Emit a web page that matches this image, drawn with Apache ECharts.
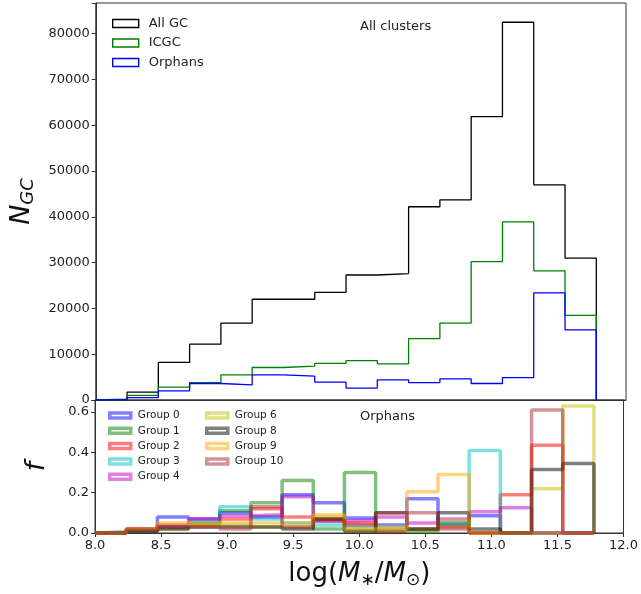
<!DOCTYPE html>
<html>
<head>
<meta charset="utf-8">
<script src="https://cdn.jsdelivr.net/npm/echarts@6/dist/echarts.min.js"></script>
<style>
  html, body { margin: 0; padding: 0; background: #fff; }
  #chart { width: 641px; height: 594px; }
</style>
</head>
<body>
<div id="chart"></div>
<script>
// bins in log(M*/Msun): 16 bins starting at 8.0
const binStart = 8.0;
const binWidth = 0.236;
const nBins = 16;

// top panel: number of GCs per bin
const allGC   = [200, 1700, 8200, 12200, 16800, 22000, 22000, 23500, 27300, 27600, 42200, 43700, 61900, 82500, 47000, 31000];
const icgc    = [100, 1000, 2800, 3800, 5500, 7100, 7400, 8000, 8600, 7900, 13400, 16800, 30200, 38900, 28200, 18500];
const orphans = [50, 500, 2000, 3600, 3300, 5500, 5200, 3900, 2600, 4400, 3800, 4600, 3600, 4900, 23400, 15300];

// bottom panel: orphan fraction per group
const groupNames = ["Group 0", "Group 1", "Group 2", "Group 3", "Group 4", "Group 6", "Group 8", "Group 9", "Group 10"];
const groupColors = ["#0000ff", "#008000", "#ff0000", "#00bfbf", "#bf00bf", "#bfbf00", "#000000", "#ffa500", "#a52a2a"];
const g0  = [0.0, 0.01, 0.08, 0.07, 0.10, 0.08, 0.19, 0.15, 0.075, 0.04, 0.17, 0.05, 0.085, 0.0, 0.0, 0.0];
const g1  = [0.0, 0.01, 0.03, 0.05, 0.11, 0.15, 0.26, 0.02, 0.30, 0.01, 0.01, 0.04, 0.0, 0.0, 0.0, 0.0];
const g2  = [0.0, 0.02, 0.04, 0.04, 0.07, 0.12, 0.08, 0.07, 0.05, 0.01, 0.02, 0.03, 0.0, 0.19, 0.435, 0.0];
const g3  = [0.008, 0.01, 0.03, 0.05, 0.13, 0.07, 0.05, 0.04, 0.03, 0.02, 0.01, 0.05, 0.41, 0.0, 0.0, 0.0];
const g4  = [0.0, 0.01, 0.03, 0.07, 0.085, 0.09, 0.18, 0.06, 0.065, 0.08, 0.05, 0.07, 0.105, 0.125, 0.0, 0.0];
const g6  = [0.0, 0.01, 0.02, 0.05, 0.04, 0.03, 0.03, 0.08, 0.01, 0.03, 0.01, 0.06, 0.0, 0.0, 0.22, 0.63];
const g8  = [0.0, 0.01, 0.02, 0.03, 0.03, 0.03, 0.02, 0.07, 0.01, 0.10, 0.02, 0.10, 0.02, 0.0, 0.315, 0.345];
const g9  = [0.0, 0.02, 0.05, 0.04, 0.05, 0.05, 0.05, 0.09, 0.02, 0.02, 0.205, 0.29, 0.0, 0.0, 0.0, 0.0];
const g10 = [0.0, 0.02, 0.03, 0.03, 0.02, 0.13, 0.03, 0.06, 0.04, 0.10, 0.10, 0.02, 0.0, 0.0, 0.61, 0.0];
const groupValues = [g0, g1, g2, g3, g4, g6, g8, g9, g10];

const edges = [];
for (let i = 0; i <= nBins; i++) edges.push(+(binStart + i * binWidth).toFixed(3));

// outline of a step histogram, drawn with step:'end'
function stepData(vals) {
  const pts = [[edges[0], 0]];
  vals.forEach((v, i) => pts.push([edges[i], v]));
  pts.push([edges[nBins], 0]);
  return pts;
}

function rgba(hex, a) {
  const n = parseInt(hex.slice(1), 16);
  return "rgba(" + (n >> 16) + "," + ((n >> 8) & 255) + "," + (n & 255) + "," + a + ")";
}

const font = "DejaVu Sans";
const chart = echarts.init(document.getElementById("chart"));

const topSeries = [
  { name: "All GC", data: allGC, color: "#000000" },
  { name: "ICGC", data: icgc, color: "#008000" },
  { name: "Orphans", data: orphans, color: "#0000ff" },
].map(s => ({
  name: s.name,
  type: "line",
  step: "end",
  xAxisIndex: 0,
  yAxisIndex: 0,
  showSymbol: false,
  silent: true,
  color: s.color,
  lineStyle: { color: s.color, width: 1.3 },
  data: stepData(s.data),
}));

const groupSeries = groupNames.map((name, k) => ({
  name: name,
  type: "line",
  step: "end",
  xAxisIndex: 1,
  yAxisIndex: 1,
  showSymbol: false,
  silent: true,
  color: groupColors[k],
  lineStyle: { color: groupColors[k], width: 3.5, opacity: 0.5 },
  data: stepData(groupValues[k]),
}));

const axisLine = { show: true, lineStyle: { color: "#333", width: 1 } };
const axisTick = { show: true, inside: false, length: 4, lineStyle: { color: "#333" } };
const labelStyle = { color: "#222", fontSize: 13, fontFamily: font };

function groupLegend(names, left) {
  return {
    orient: "vertical",
    left: left,
    top: 405,
    itemWidth: 21,
    itemHeight: 5,
    itemGap: 4.3,
    selectedMode: false,
    textStyle: { fontSize: 10.5, fontFamily: font, color: "#222", padding: [0, 0, 0, 2] },
    data: names.map(n => {
      const c = groupColors[groupNames.indexOf(n)];
      return { name: n, icon: "rect", itemStyle: { color: "#ffffff", borderColor: rgba(c, 0.5), borderWidth: 3.5 } };
    }),
  };
}

const option = {
  backgroundColor: "#ffffff",
  animation: false,
  title: [
    { text: "All clusters", left: 360, top: 20, padding: 0,
      textStyle: { fontSize: 13, fontWeight: "normal", fontFamily: font, color: "#222" } },
    { text: "Orphans", left: 360, top: 410, padding: 0,
      textStyle: { fontSize: 13, fontWeight: "normal", fontFamily: font, color: "#222" } },
  ],
  legend: [
    {
      orient: "vertical",
      left: 107,
      top: 12,
      itemWidth: 26,
      itemHeight: 8,
      itemGap: 6.5,
      selectedMode: false,
      textStyle: { fontSize: 13, fontFamily: font, color: "#222", padding: [0, 0, 0, 5] },
      data: topSeries.map(s => ({
        name: s.name, icon: "rect",
        itemStyle: { color: "#ffffff", borderColor: s.color, borderWidth: 1.4 },
      })),
    },
    groupLegend(["Group 0", "Group 1", "Group 2", "Group 3", "Group 4"], 103),
    groupLegend(["Group 6", "Group 8", "Group 9", "Group 10"], 200),
  ],
  grid: [
    { left: 95, right: 15, top: 3, height: 397, show: true, borderColor: "#333", borderWidth: 1 },
    { left: 95, right: 15, top: 400, height: 133, show: true, borderColor: "#333", borderWidth: 1 },
  ],
  xAxis: [
    {
      type: "value", gridIndex: 0, min: 8, max: 12, interval: 0.5,
      axisLine: axisLine, axisTick: { show: false }, axisLabel: { show: false }, splitLine: { show: false },
    },
    {
      type: "value", gridIndex: 1, min: 8, max: 12, interval: 0.5,
      axisLine: axisLine, axisTick: axisTick, splitLine: { show: false },
      axisLabel: Object.assign({ margin: 6, formatter: v => v.toFixed(1) }, labelStyle),
      name: "{n|log(}{i|M}{s|∗}{n|/}{i|M}{s|⊙}{n|)}",
      nameLocation: "middle",
      nameGap: 27,
      nameTextStyle: {
        rich: {
          n: { fontSize: 26, fontFamily: font, color: "#111" },
          i: { fontSize: 26, fontFamily: font, fontStyle: "italic", color: "#111" },
          s: { fontSize: 17, fontFamily: font, color: "#111", padding: [12, 0, 0, 0] },
        },
      },
    },
  ],
  yAxis: [
    {
      type: "value", gridIndex: 0, min: 0, max: 86700, interval: 10000,
      axisLine: axisLine, axisTick: axisTick, splitLine: { show: false },
      axisLabel: Object.assign({ margin: 6, formatter: v => (v % 10000 === 0 ? String(v) : "") }, labelStyle),
      name: "{i|N}{s|GC}",
      nameLocation: "middle",
      nameRotate: 90,
      nameGap: 58,
      nameTextStyle: {
        rich: {
          i: { fontSize: 27, fontFamily: font, fontStyle: "italic", color: "#111" },
          s: { fontSize: 18, fontFamily: font, fontStyle: "italic", color: "#111", padding: [14, 0, 0, 0] },
        },
      },
    },
    {
      type: "value", gridIndex: 1, min: 0, max: 0.66, interval: 0.2,
      axisLine: axisLine, axisTick: axisTick, splitLine: { show: false },
      axisLabel: Object.assign({ margin: 6, formatter: v => (Math.abs(v * 5 - Math.round(v * 5)) < 1e-6 ? v.toFixed(1) : "") }, labelStyle),
      name: "f",
      nameLocation: "middle",
      nameRotate: 90,
      nameGap: 45,
      nameTextStyle: { fontSize: 27, fontFamily: font, fontStyle: "italic", color: "#111" },
    },
  ],
  series: topSeries.concat(groupSeries),
};

chart.setOption(option);
</script>
</body>
</html>
